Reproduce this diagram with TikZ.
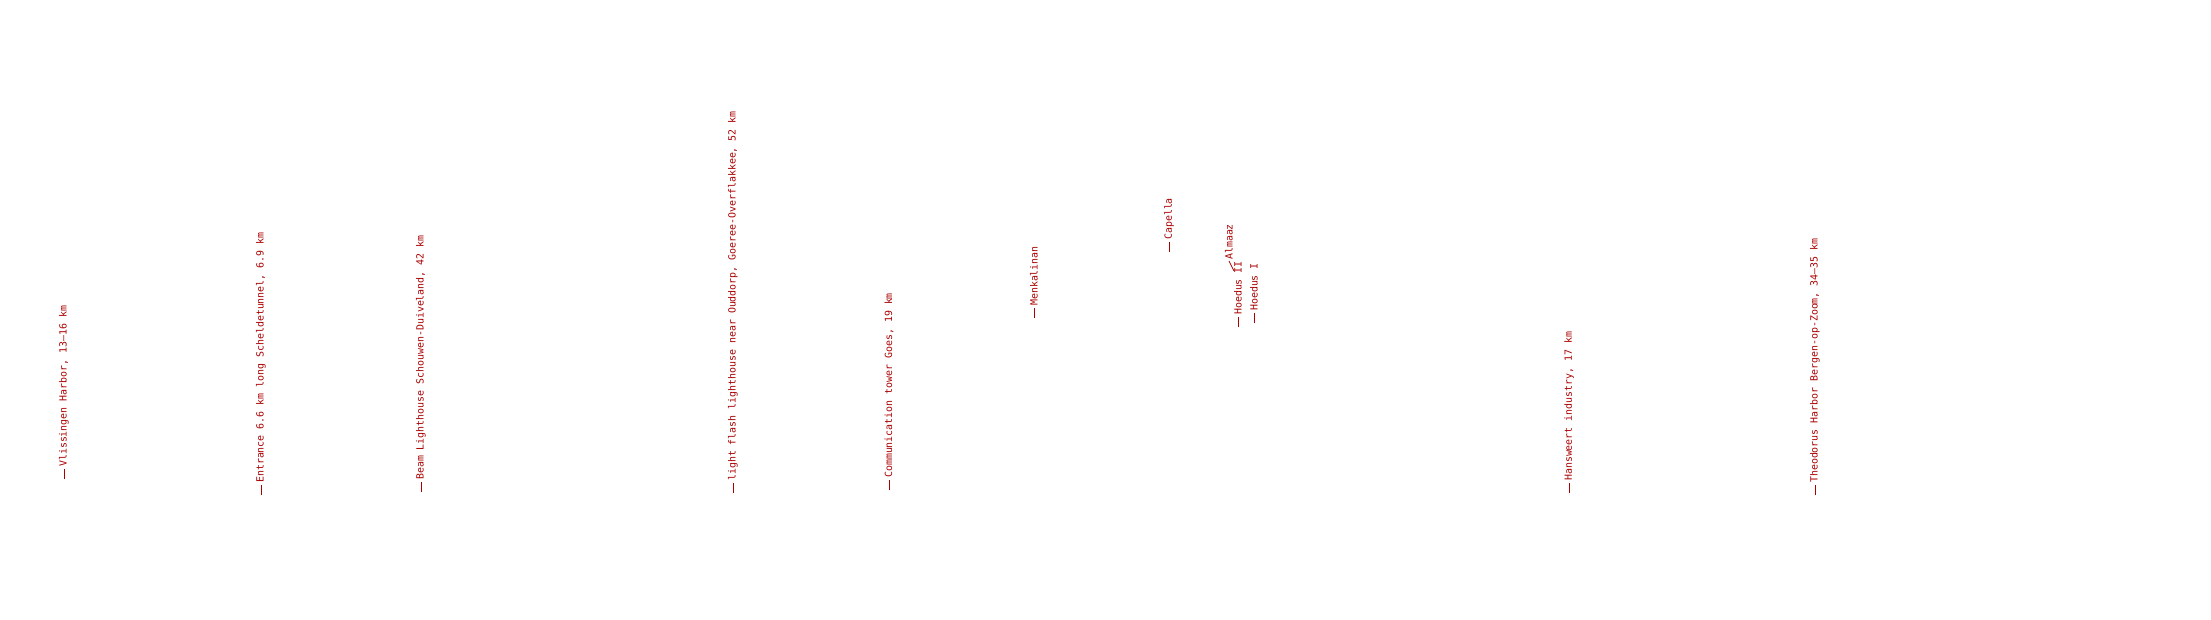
\documentclass[tikz,border=0pt]{standalone}
\usepackage{fontspec}
\newfontfamily\labelfont{DejaVu Sans Mono}
\definecolor{lblred}{RGB}{170,0,0}
\begin{document}
\begin{tikzpicture}[x=1pt,y=-1pt,
  lbl/.style={rotate=90,anchor=west,inner xsep=2pt,inner ysep=0pt,text=lblred,font=\labelfont\fontsize{9.9}{12}\selectfont},
  tick/.style={draw=lblred,line width=0.9pt}]
\useasboundingbox[fill=white] (0,0) rectangle (2211,620);
% coordinates: (x, y of tick bottom)
\coordinate (t1) at (64,479);
\node[lbl] (n1) at (64,469) {Vlissingen Harbor, 13–16 km};
\draw[tick] (t1) -- (n1.west);

\coordinate (t2) at (261,495);
\node[lbl] (n2) at (261,485) {Entrance 6.6 km long Scheldetunnel, 6.9 km};
\draw[tick] (t2) -- (n2.west);

\coordinate (t3) at (421,492);
\node[lbl] (n3) at (421,482) {Beam Lighthouse Schouwen-Duiveland, 42 km};
\draw[tick] (t3) -- (n3.west);

\coordinate (t4) at (733,493);
\node[lbl] (n4) at (733,483) {light flash lighthouse near Ouddorp, Goeree-Overflakkee, 52 km};
\draw[tick] (t4) -- (n4.west);

\coordinate (t5) at (889,490);
\node[lbl] (n5) at (889,480) {Communication tower Goes, 19 km};
\draw[tick] (t5) -- (n5.west);

\coordinate (t6) at (1034,318);
\node[lbl] (n6) at (1034,308) {Menkalinan};
\draw[tick] (t6) -- (n6.west);

\coordinate (t7) at (1169,252);
\node[lbl] (n7) at (1169,242) {Capella};
\draw[tick] (t7) -- (n7.west);

\coordinate (t8) at (1234,271);
\node[lbl,inner xsep=1pt] (n8) at (1229,261) {Almaaz};
\draw[tick,line width=0.7pt] (t8) -- (n8.west);

\coordinate (t9) at (1238,327);
\node[lbl] (n9) at (1238,317) {Hoedus II};
\draw[tick] (t9) -- (n9.west);

\coordinate (t10) at (1254,323);
\node[lbl] (n10) at (1254,313) {Hoedus I};
\draw[tick] (t10) -- (n10.west);

\coordinate (t11) at (1569,493);
\node[lbl] (n11) at (1569,483) {Hansweert industry, 17 km};
\draw[tick] (t11) -- (n11.west);

\coordinate (t12) at (1815,495);
\node[lbl] (n12) at (1815,485) {Theodorus Harbor Bergen-op-Zoom, 34–35 km};
\draw[tick] (t12) -- (n12.west);
\end{tikzpicture}
\end{document}
